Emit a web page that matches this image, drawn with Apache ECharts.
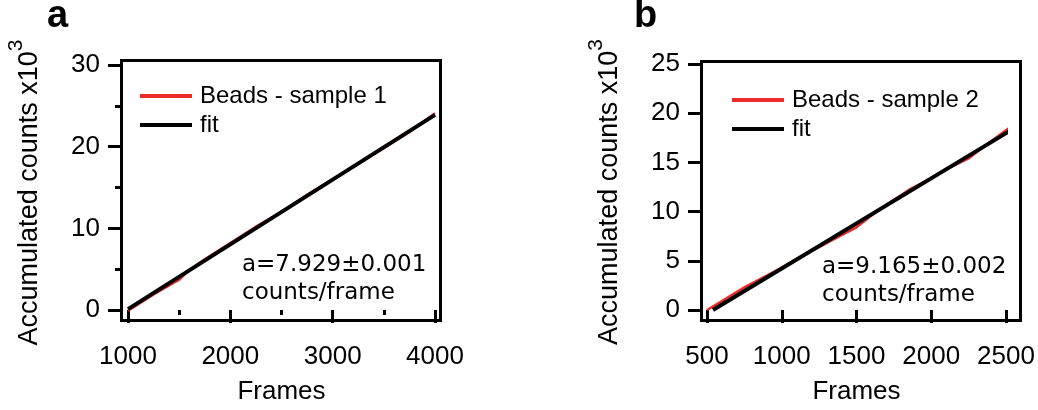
<!DOCTYPE html>
<html>
<head>
<meta charset="utf-8">
<script src="https://cdn.jsdelivr.net/npm/echarts@6/dist/echarts.min.js"></script>
<style>
  html, body { margin: 0; padding: 0; background: #fff; }
  #main { width: 1038px; height: 410px; }
</style>
</head>
<body>
<div id="main"></div>
<script>
    // data: [frame, counts x10^3]
    var beadsA = [[1000, -0.1], [1250, 1.9], [1500, 3.7], [1580, 4.7], [1750, 6.2], [2000, 8.2],
                  [2250, 10.2], [2500, 12.0], [2750, 14.1], [3000, 16.0], [3250, 17.9],
                  [3500, 19.8], [3750, 21.8], [4000, 24.1]];
    var fitA = [[1000, 0.1], [4000, 23.9]];

    var beadsB = [[500, 0.0], [600, 0.9], [750, 2.3], [900, 3.5], [1000, 4.3], [1100, 5.2],
                  [1250, 6.4], [1400, 7.6], [1500, 8.4], [1600, 9.6], [1700, 10.7], [1750, 11.2],
                  [1850, 12.2], [2000, 13.4], [2100, 14.3], [2250, 15.4], [2350, 16.6],
                  [2450, 17.7], [2555, 18.9]];
    var fitB = [[540, 0.0], [2553, 18.45]];

    var namesA = ['Beads - sample 1', 'fit'];
    var namesB = ['Beads - sample 2', 'fit'];
    var noteA = 'a=7.929±0.001\ncounts/frame';
    var noteB = 'a=9.165±0.002\ncounts/frame';

    var FONT = 'Liberation Sans';
    var RED = '#ee2b2b';

    var myChart = echarts.init(document.getElementById('main'));

    function plain(v) { return String(v); }

    function xAx(idx, min, max, step, minor) {
        return {
            type: 'value', gridIndex: idx, min: min, max: max, interval: step,
            offset: 7,
            name: 'Frames', nameLocation: 'middle', nameGap: 62,
            nameTextStyle: { fontFamily: FONT, fontSize: 26, color: '#000' },
            axisLine: { show: false },
            axisTick: { show: true, length: 13, lineStyle: { color: '#000', width: 3 } },
            minorTick: { show: minor, splitNumber: 2, length: 5, lineStyle: { color: '#000', width: 3 } },
            splitLine: { show: false },
            axisLabel: { margin: 27, fontFamily: FONT, fontSize: 26, color: '#000', formatter: plain }
        };
    }
    function yAx(idx, max, step, minor, off) {
        return {
            type: 'value', gridIndex: idx, min: 0, max: max, interval: step,
            offset: off,
            name: 'Accumulated counts x10{sup|3}', nameLocation: 'middle', nameGap: 66,
            nameTextStyle: {
                fontFamily: FONT, fontSize: 27, color: '#000', lineHeight: 48,
                padding: [0, 10, 0, 0],
                rich: { sup: { fontFamily: FONT, fontSize: 21, color: '#000', verticalAlign: 'top', lineHeight: 20 } }
            },
            axisLine: { show: false },
            axisTick: { show: true, length: 12, lineStyle: { color: '#000', width: 3 } },
            minorTick: { show: minor, splitNumber: 2, length: 5, lineStyle: { color: '#000', width: 3 } },
            splitLine: { show: false },
            axisLabel: { margin: 20, fontFamily: FONT, fontSize: 26, color: '#000', formatter: plain }
        };
    }
    function legendAt(names, left, top) {
        return {
            data: names, orient: 'vertical', left: left, top: top,
            icon: 'rect', itemWidth: 52, itemHeight: 4, itemGap: 5,
            textStyle: { fontFamily: FONT, fontSize: 24, color: '#000', padding: [0, 0, 0, 3] },
            selectedMode: false
        };
    }
    function box(x, y, w, h) {
        return { type: 'rect', shape: { x: x, y: y, width: w, height: h },
                 style: { fill: 'none', stroke: '#000', lineWidth: 3 }, z: 10 };
    }
    function note(text, x, y) {
        return { type: 'text', x: x, y: y,
                 style: { text: text, font: '23px "DejaVu Sans"', fill: '#000', lineHeight: 28 } };
    }
    function letter(t, x) {
        return { type: 'text', x: x, y: -2,
                 style: { text: t, font: 'bold 38px "Liberation Sans"', fill: '#000' } };
    }

    var option = {
        backgroundColor: '#fff',
        animation: false,
        grid: [
            { left: 128, width: 307, top: 65, height: 250 },
            { left: 707, width: 299, top: 64, height: 251 }
        ],
        xAxis: [xAx(0, 1000, 4000, 1000, true), xAx(1, 500, 2500, 500, false)],
        yAxis: [yAx(0, 30, 10, true, 8), yAx(1, 25, 5, false, 7)],
        legend: [legendAt(namesA, 135, 79), legendAt(namesB, 727, 83)],
        series: [
            { name: namesA[0], type: 'line', xAxisIndex: 0, yAxisIndex: 0, data: beadsA,
              showSymbol: false, clip: false, color: RED, lineStyle: { color: RED, width: 2.5 } },
            { name: namesA[1], type: 'line', xAxisIndex: 0, yAxisIndex: 0, data: fitA,
              showSymbol: false, clip: false, color: '#000', lineStyle: { color: '#000', width: 4 } },
            { name: namesB[0], type: 'line', xAxisIndex: 1, yAxisIndex: 1, data: beadsB,
              showSymbol: false, clip: false, color: RED, lineStyle: { color: RED, width: 2.5 } },
            { name: namesB[1], type: 'line', xAxisIndex: 1, yAxisIndex: 1, data: fitB,
              showSymbol: false, clip: false, color: '#000', lineStyle: { color: '#000', width: 4 } }
        ],
        graphic: [
            box(121.5, 60.5, 319, 260),
            box(701.5, 61.5, 319, 259),
            note(noteA, 242, 251),
            note(noteB, 822, 253),
            letter('a', 47),
            letter('b', 634)
        ]
    };
    myChart.setOption(option);
</script>
</body>
</html>
